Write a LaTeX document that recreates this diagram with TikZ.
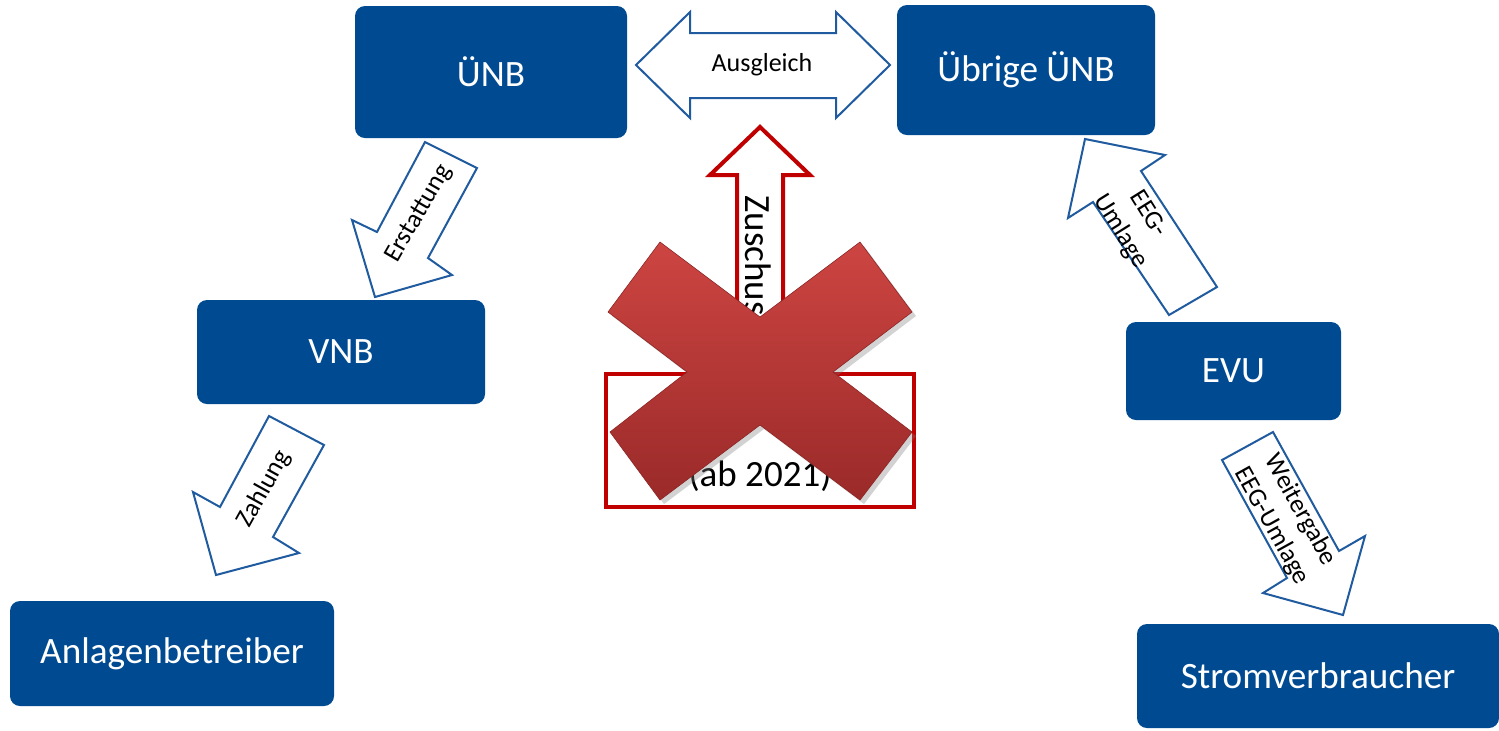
\documentclass[tikz,border=0pt]{standalone}
\usepackage{fontspec}
\setmainfont{Carlito}
\usetikzlibrary{shadows}
\definecolor{boxblue}{HTML}{004A91}
\definecolor{arrblue}{HTML}{1F5B9E}
\definecolor{darkred}{HTML}{C00000}
\definecolor{xtop}{HTML}{CD4542}
\definecolor{xbot}{HTML}{9A2A29}
\begin{document}
\begin{tikzpicture}[x=0.5pt,y=-0.5pt,
  box/.style={fill=boxblue, rounded corners=5pt, text=white, inner sep=0pt,
    font=\fontsize{18.6}{22}\selectfont},
  blockarrow/.style={draw=arrblue, fill=white, line width=1pt, line join=miter},
  lbl/.style={inner sep=0pt, align=center, font=\fontsize{13}{16.5}\selectfont},
  bigtext/.style={inner sep=0pt, font=\fontsize{18.5}{22}\selectfont}]
\useasboundingbox (0,0) rectangle (1499,730);

% boxes
\node[box, minimum width=136pt, minimum height=66pt] (unb) at (491,72) {ÜNB};
\node[box, minimum width=129pt, minimum height=65pt] (uunb) at (1026,70) {Übrige ÜNB};
\node[box, minimum width=144pt, minimum height=52pt] (vnb) at (341,352) {VNB};
\node[box, minimum width=107.5pt, minimum height=49pt] (evu) at (1233.5,371) {EVU};
\node[box, minimum width=162pt, minimum height=52.5pt] (ab) at (172,653.5) {Anlagenbetreiber};
\node[box, minimum width=181pt, minimum height=52pt] (sv) at (1318,676) {Stromverbraucher};

% Ausgleich double arrow
\draw[blockarrow] (636,65) -- (690,12) -- (690,33) -- (836,33) -- (836,12) -- (890,65)
  -- (836,118) -- (836,98) -- (690,98) -- (690,118) -- cycle;
\node[lbl] (ausg) at (762,65) {Ausgleich};

% Erstattung
\draw[blockarrow] (425,142) -- (477,168) -- (428,258) -- (452,275) -- (375,297)
  -- (352,220) -- (377,232) -- cycle;
\node[lbl, rotate=60] (erst) at (419,214) {Erstattung};

% Zahlung
\draw[blockarrow] (269,416) -- (324,445) -- (273,537) -- (299,553) -- (216,575)
  -- (193,492) -- (220,507) -- cycle;
\node[lbl, rotate=61] (zahl) at (264,489) {Zahlung};

% EEG-Umlage (up)
\draw[blockarrow] (1085,139) -- (1165,155) -- (1141,171) -- (1217,287) -- (1169,315)
  -- (1093,202) -- (1068,218) -- cycle;
\node[lbl, rotate=-58] (eeg) at (1134,223) {EEG-\\Umlage};

% Weitergabe EEG-Umlage
\draw[blockarrow] (1222,460) -- (1273,432) -- (1339,551) -- (1365,536) -- (1343,615)
  -- (1263,593) -- (1287,578) -- cycle;
\node[lbl, rotate=-61] (weit) at (1286,518) {Weitergabe\\EEG-Umlage};

% Zuschuss arrow
\draw[draw=darkred, fill=white, line width=2pt, line join=miter]
  (760,127) -- (810,175) -- (783,175) -- (783,372) -- (737,372) -- (737,175) -- (710,175) -- cycle;
\node[bigtext, rotate=-90] (zu) at (758,263) {Zuschuss};

% red box
\node[draw=darkred, line width=2pt, fill=white, minimum width=154pt, minimum height=66.5pt, inner sep=0pt] (rb) at (760,440.5) {};
\node[bigtext] (ab21) at (760,476) {(ab 2021)};

% big X
\path[top color=xtop, bottom color=xbot, draw=xbot!90!black, line width=0.3pt,
  drop shadow={opacity=0.35, shadow xshift=2pt, shadow yshift=-2pt}]
  (660,242) -- (760,317) -- (860,242) -- (912,312) -- (833,372) -- (912,432)
  -- (860,500) -- (760,425) -- (660,500) -- (610,432) -- (687,372) -- (608,312) -- cycle;
\end{tikzpicture}
\end{document}
